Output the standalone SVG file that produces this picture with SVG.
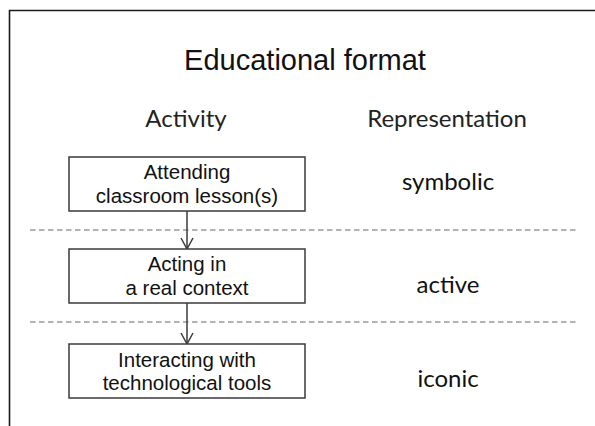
<svg xmlns="http://www.w3.org/2000/svg" width="595" height="426" viewBox="0 0 595 426">
<style>
.frame{fill:none;stroke:#1a1a1a;stroke-width:1.6}
.box{fill:#fff;stroke:#3a3a3a;stroke-width:1.5}
.btxt{font-family:"Liberation Sans",Arial,sans-serif;font-size:20.5px;fill:#111;text-anchor:middle}
.title{font-family:"Liberation Sans",Arial,sans-serif;font-size:29px;fill:#111;text-anchor:middle}
.head{font-family:Lato,"Open Sans",sans-serif;font-size:24px;fill:#222;text-anchor:middle}
.rep{font-family:Lato,"Open Sans",sans-serif;font-size:24px;fill:#111;text-anchor:middle}
.dash{stroke:#9a9a9a;stroke-width:1.5;stroke-dasharray:5.5,3.5;fill:none}
.conn{stroke:#3a3a3a;stroke-width:1.5;fill:none}
</style>
<rect width="595" height="426" fill="#fff"/>
<path class="frame" d="M9.5,426 V10.5 H595"/>
<text class="title" x="305" y="70">Educational format</text>
<text class="head" x="186" y="127">Activity</text>
<text class="head" x="447" y="127">Representation</text>
<g id="separators">
<line class="dash" x1="30" y1="230" x2="576" y2="230"/>
<line class="dash" x1="30" y1="322" x2="576" y2="322"/>
</g>
<g id="connectors">
<line class="conn" x1="187" y1="211" x2="187" y2="248.5"/>
<polyline class="conn" points="181,238 187,249 193,238"/>
<line class="conn" x1="187" y1="303" x2="187" y2="343.5"/>
<polyline class="conn" points="181,333 187,344 193,333"/>
</g>
<g id="node-attending">
<rect class="box" x="69" y="157" width="236" height="54"/>
<text class="btxt" x="187" y="179">Attending</text>
<text class="btxt" x="187" y="203">classroom lesson(s)</text>
</g>
<g id="node-acting">
<rect class="box" x="69" y="249" width="236" height="54"/>
<text class="btxt" x="187" y="271">Acting in</text>
<text class="btxt" x="187" y="295">a real context</text>
</g>
<g id="node-interacting">
<rect class="box" x="69" y="344" width="236" height="54"/>
<text class="btxt" x="187" y="367">Interacting with</text>
<text class="btxt" x="187" y="390">technological tools</text>
</g>
<g id="rep-symbolic"><text class="rep" x="448" y="190">symbolic</text></g>
<g id="rep-active"><text class="rep" x="448" y="293">active</text></g>
<g id="rep-iconic"><text class="rep" x="448" y="387">iconic</text></g>
</svg>
